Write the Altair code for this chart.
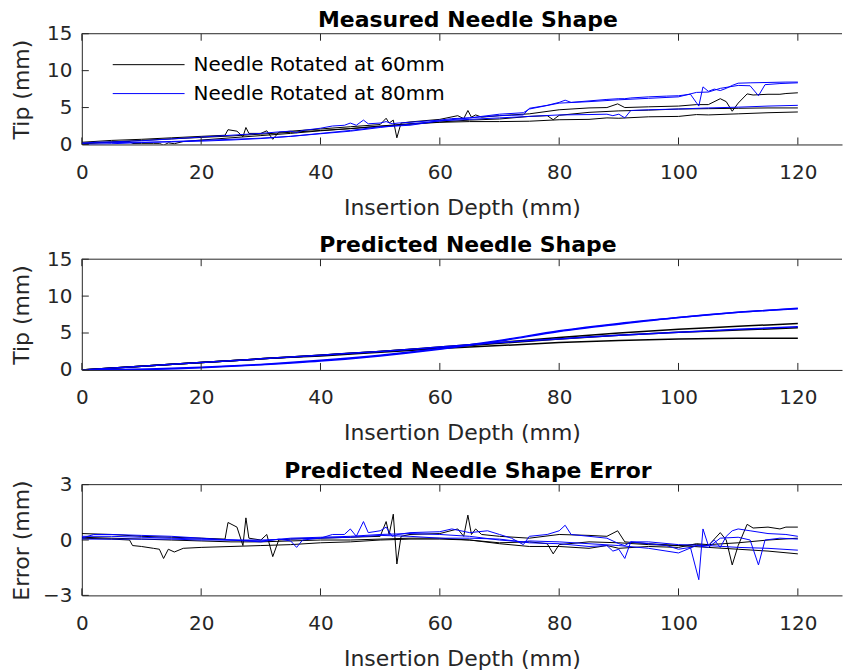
import altair as alt
import pandas as pd

# ---------------- data ----------------
GROUPS = ["Needle Rotated at 60mm", "Needle Rotated at 80mm"]
COLORS = ["#000000", "#0000ff"]

# Measured needle shape (tip deflection, mm)
M1_x = [0, 5, 10, 15, 20, 24, 24.5, 26, 27, 27.5, 28, 30, 31, 32, 33, 35, 40, 45, 50, 51, 51.5, 52.2, 52.8, 53.5, 55, 60, 63, 64, 64.7, 65.3, 66, 67, 70, 75, 80, 85, 88, 89.8, 91, 95, 100, 103, 105, 107, 108, 109, 110, 111.5, 112.5, 115, 117, 118, 120]
M1_y = [0.3, 0.55, 0.7, 0.9, 1.1, 1.25, 2.0, 1.8, 1.05, 2.3, 1.5, 1.5, 1.85, 0.7, 1.65, 1.8, 2.1, 2.4, 2.7, 3.55, 2.9, 3.3, 0.9, 2.9, 3.05, 3.4, 3.9, 3.5, 4.6, 3.7, 4.0, 3.7, 3.9, 4.15, 4.7, 4.95, 5.0, 5.5, 5.0, 5.1, 5.2, 5.4, 5.4, 6.2, 5.8, 4.5, 5.6, 6.85, 6.7, 6.8, 6.8, 6.9, 7.0]
M2_x = [0, 5, 8, 8.5, 10, 12, 13, 13.7, 14.5, 15.5, 17, 20, 25, 30, 35, 40, 45, 50, 55, 60, 65, 70, 75, 78, 79, 80, 85, 90, 95, 100, 105, 110, 115, 120]
M2_y = [0.1, 0.3, 0.4, 0.13, 0.15, 0.15, 0.15, -0.1, 0.22, 0.1, 0.4, 0.6, 0.9, 1.2, 1.5, 1.85, 2.15, 2.5, 2.8, 3.05, 3.3, 3.45, 3.8, 3.9, 3.35, 3.95, 4.35, 4.55, 4.65, 4.8, 4.85, 4.9, 4.95, 4.95]
M3_x = [0, 5, 10, 15, 20, 25, 30, 35, 40, 45, 50, 55, 60, 65, 70, 75, 80, 85, 88, 90, 95, 100, 103, 105, 110, 115, 120]
M3_y = [0.15, 0.35, 0.55, 0.75, 0.95, 1.15, 1.4, 1.65, 1.9, 2.15, 2.45, 2.75, 3.0, 3.1, 3.1, 3.15, 3.35, 3.4, 3.6, 3.55, 3.75, 3.8, 4.05, 4.0, 4.15, 4.3, 4.4]
M4_x = [0, 2, 5, 10, 15, 20, 25, 30, 33, 35, 36, 37, 40, 42, 44, 45, 46, 47.2, 48, 50, 51, 52, 53, 55, 60, 62, 65, 68, 70, 72, 74, 75, 78, 80, 81, 82, 85, 88, 90, 91, 92, 95, 98, 100, 102, 103.4, 104.1, 105, 106, 107, 108, 109, 110, 112, 115, 118, 120]
M4_y = [0.1, 0.3, 0.35, 0.5, 0.75, 1.0, 1.25, 1.5, 1.7, 1.8, 1.6, 1.9, 2.2, 2.5, 2.6, 2.9, 2.6, 3.3, 2.8, 2.9, 3.1, 2.8, 2.9, 3.0, 3.3, 3.5, 3.6, 3.8, 3.9, 3.95, 4.0, 4.9, 5.3, 5.7, 6.0, 5.7, 5.9, 6.1, 6.2, 6.2, 6.3, 6.45, 6.55, 6.6, 6.8, 5.2, 7.8, 7.2, 7.5, 7.3, 7.6, 8.0, 8.3, 8.35, 8.4, 8.45, 8.45]
M5_x = [0, 5, 10, 15, 20, 25, 30, 35, 40, 45, 50, 55, 60, 65, 70, 74, 75, 80, 85, 90, 95, 100, 103, 105, 107, 110, 112, 113.4, 114.5, 117, 120]
M5_y = [0.2, 0.25, 0.3, 0.35, 0.45, 0.6, 0.8, 1.1, 1.45, 1.8, 2.3, 2.75, 3.2, 3.6, 4.1, 4.3, 4.8, 5.6, 5.8, 6.05, 6.25, 6.45, 7.05, 7.1, 7.6, 8.0, 7.95, 6.6, 8.1, 8.25, 8.35]
M6_x = [0, 5, 10, 15, 20, 25, 30, 35, 40, 45, 50, 55, 60, 65, 70, 75, 80, 85, 88, 89, 90, 91, 92, 95, 100, 105, 110, 115, 120]
M6_y = [0.0, 0.1, 0.25, 0.4, 0.55, 0.7, 0.85, 1.1, 1.5, 1.9, 2.4, 2.6, 3.2, 3.4, 3.6, 3.8, 4.0, 4.05, 4.1, 3.9, 4.1, 3.6, 4.6, 4.7, 4.8, 4.95, 5.05, 5.2, 5.3]

# Predicted needle shape
P_x = [0, 10, 20, 30, 40, 50, 60, 70, 80, 90, 100, 110, 120]
P1_y = [0, 0.5, 1.0, 1.5, 2.0, 2.5, 3.1, 3.7, 4.4, 5.0, 5.5, 5.9, 6.3]
P2_y = [0, 0.5, 1.0, 1.5, 2.0, 2.5, 3.0, 3.6, 4.2, 4.7, 5.1, 5.4, 5.7]
P3_y = [0, 0.5, 1.0, 1.5, 1.9, 2.4, 2.9, 3.3, 3.7, 4.0, 4.2, 4.3, 4.3]
P4_y = [0, 0.05, 0.3, 0.7, 1.2, 1.9, 2.8, 3.9, 5.2, 6.2, 7.1, 7.8, 8.3]
P5_y = [0, 0.1, 0.35, 0.75, 1.3, 2.0, 2.9, 4.0, 5.3, 6.3, 7.1, 7.8, 8.35]
P6_y = [0, 0.5, 1.0, 1.5, 2.0, 2.5, 3.1, 3.7, 4.2, 4.7, 5.1, 5.5, 5.85]

# Prediction error (same x samples as the measured series)
E1_y = [0.35, 0.3, 0.2, 0.15, 0.1, 0.05, 0.95, 0.7, -0.3, 1.2, 0.1, 0.0, 0.3, -0.9, 0.0, 0.05, 0.1, 0.15, 0.2, 1.0, 0.3, 1.4, -1.3, 0.2, 0.3, 0.35, 0.6, 0.2, 1.35, 0.3, 0.6, 0.3, 0.2, 0.1, 0.3, 0.25, 0.2, 0.5, -0.1, -0.2, -0.3, -0.25, -0.3, 0.4, 0.0, -1.35, -0.3, 0.85, 0.65, 0.7, 0.6, 0.7, 0.7]
E2_y = [0.1, 0.05, 0.0, -0.3, -0.35, -0.45, -0.5, -1.0, -0.5, -0.65, -0.45, -0.4, -0.35, -0.3, -0.25, -0.15, -0.1, 0.0, 0.05, 0.05, 0.0, -0.15, -0.1, -0.2, -0.75, -0.25, -0.1, -0.15, -0.25, -0.3, -0.4, -0.5, -0.6, -0.75]
E3_y = [0.15, 0.1, 0.05, 0.0, -0.05, -0.1, -0.1, -0.05, 0.0, 0.0, 0.05, 0.1, 0.1, 0.0, -0.2, -0.35, -0.35, -0.45, -0.3, -0.45, -0.35, -0.4, -0.2, -0.25, -0.15, 0.0, 0.1]
E4_y = [0.1, 0.3, 0.3, 0.25, 0.2, 0.1, 0.0, -0.1, 0.05, -0.05, -0.4, 0.0, 0.1, 0.3, 0.3, 0.6, 0.2, 1.0, 0.4, 0.5, 0.7, 0.2, 0.3, 0.4, 0.45, 0.6, 0.4, 0.5, 0.3, 0.1, -0.25, 0.2, 0.3, 0.5, 0.8, 0.3, 0.2, 0.1, -0.2, -0.3, -0.1, -0.2, -0.3, -0.5, -0.4, -2.15, 0.6, -0.3, 0.0, -0.4, 0.2, 0.5, 0.6, 0.5, 0.35, 0.3, 0.2]
E5_y = [0.2, 0.2, 0.15, 0.1, 0.05, 0.0, -0.05, 0.1, 0.15, 0.2, 0.3, 0.35, 0.3, 0.2, 0.0, -0.1, -0.05, -0.1, -0.2, -0.3, -0.45, -0.7, -0.3, -0.4, 0.1, 0.15, 0.0, -1.35, 0.0, 0.1, 0.05]
E6_y = [0.05, 0.05, 0.05, 0.05, 0.0, 0.0, 0.0, 0.05, 0.1, 0.15, 0.25, 0.2, 0.1, 0.1, 0.05, -0.15, -0.2, -0.35, -0.3, -0.6, -0.5, -1.0, -0.1, -0.1, -0.25, -0.3, -0.4, -0.45, -0.55]

X_TICKS = [0, 20, 40, 60, 80, 100, 120]
TIP_TICKS = [0, 5, 10, 15]
ERR_TICKS = [-3, 0, 3]

# ---------------- build tables ----------------
def table(series):
    rows = []
    for sid, grp, xs, ys in series:
        for i, (xv, yv) in enumerate(zip(xs, ys)):
            rows.append({"sid": sid, "group": grp, "i": i, "x": xv, "y": yv})
    return pd.DataFrame(rows)

g60, g80 = GROUPS
meas = table([("a1", g60, M1_x, M1_y), ("a2", g60, M2_x, M2_y), ("a3", g60, M3_x, M3_y),
              ("b1", g80, M4_x, M4_y), ("b2", g80, M5_x, M5_y), ("b3", g80, M6_x, M6_y)])
pred = table([("a1", g60, P_x, P1_y), ("a2", g60, P_x, P2_y), ("a3", g60, P_x, P3_y),
              ("b1", g80, P_x, P4_y), ("b2", g80, P_x, P5_y), ("b3", g80, P_x, P6_y)])
err = table([("a1", g60, M1_x, E1_y), ("a2", g60, M2_x, E2_y), ("a3", g60, M3_x, E3_y),
             ("b1", g80, M4_x, E4_y), ("b2", g80, M5_x, E5_y), ("b3", g80, M6_x, E6_y)])

# ---------------- styling ----------------
W, H = 762, 111
AX = "#262626"
FONT = "DejaVu Sans"
TICK_LEN = 7
x_scale = alt.Scale(domain=[0, 127.4], nice=False, zero=False)
x_axis = alt.Axis(values=X_TICKS, title="Insertion Depth (mm)", labelFontSize=20, titleFontSize=22,
                  labelFont=FONT, titleFont=FONT, labelColor=AX, titleColor=AX, domainColor=AX,
                  ticks=False, tickSize=0, labelPadding=18, titlePadding=15, grid=False,
                  titleFontWeight="normal", labelFlush=False, labelOverlap=False)


def panel(df, ydom, yticks, ytitle, title, show_legend, interp="linear", sw=1.0):
    y_scale = alt.Scale(domain=ydom, nice=False, zero=False)
    y_axis = alt.Axis(values=yticks, title=ytitle, labelFontSize=20, titleFontSize=22,
                      labelFont=FONT, titleFont=FONT, labelColor=AX, titleColor=AX, domainColor=AX,
                      ticks=False, tickSize=0, labelPadding=10, titlePadding=12, grid=False,
                      titleFontWeight="normal", labelFlush=False, labelOverlap=False,
                      minExtent=36, maxExtent=36)
    if show_legend:
        legend = alt.Legend(title=None, orient="none", legendX=57, legendY=21,
                            symbolType="M-6,0H6", symbolSize=144, symbolStrokeWidth=1,
                            labelFontSize=20, labelFont=FONT, labelColor="#000000", labelLimit=0,
                            labelOffset=35, rowPadding=9, padding=0)
    else:
        legend = None
    X = alt.X("x:Q", scale=x_scale, axis=x_axis, title="Insertion Depth (mm)")
    Y = alt.Y("y:Q", scale=y_scale, axis=y_axis, title=ytitle)
    lines = alt.Chart(df).mark_line(strokeWidth=sw, clip=True, interpolate=interp).encode(
        x=X, y=Y,
        color=alt.Color("group:N", scale=alt.Scale(domain=GROUPS, range=COLORS), legend=legend),
        detail="sid:N",
        order="i:Q",
    )
    xt = pd.DataFrame({"x": X_TICKS})
    yt = pd.DataFrame({"y": yticks})
    bot = alt.Chart(xt).mark_rule(color=AX, strokeWidth=1).encode(
        x=X, y=alt.value(H), y2=alt.value(H - TICK_LEN))
    top = alt.Chart(xt).mark_rule(color=AX, strokeWidth=1).encode(
        x=X, y=alt.value(0), y2=alt.value(TICK_LEN))
    left = alt.Chart(yt).mark_rule(color=AX, strokeWidth=1).encode(
        y=Y, x=alt.value(0), x2=alt.value(TICK_LEN))
    border = alt.Chart(pd.DataFrame({"k": [0]})).mark_rule(color=AX, strokeWidth=1).encode(
        x=alt.value(0), x2=alt.value(W), y=alt.value(0))
    return alt.layer(lines, bot, top, left, border).properties(
        width=W, height=H,
        title=alt.TitleParams(title, fontSize=22, font=FONT, fontWeight="bold", color="#000000",
                              anchor="middle", dx=6, offset=-8),
    )


p1 = panel(meas, [0, 15], TIP_TICKS, "Tip (mm)", "Measured Needle Shape", True)
p2 = panel(pred, [0, 15], TIP_TICKS, "Tip (mm)", "Predicted Needle Shape", False, interp="monotone", sw=1.5)
p3 = panel(err, [-3, 3], ERR_TICKS, "Error (mm)", "Predicted Needle Shape Error", False)

chart = alt.vconcat(p1, p2, p3, spacing=16).resolve_scale(color="independent").properties(
    padding={"left": 3, "top": 0, "right": 0, "bottom": 0}
).configure_view(stroke=None)

chart.save("out.html", embed_options={"renderer": "svg", "actions": False})
